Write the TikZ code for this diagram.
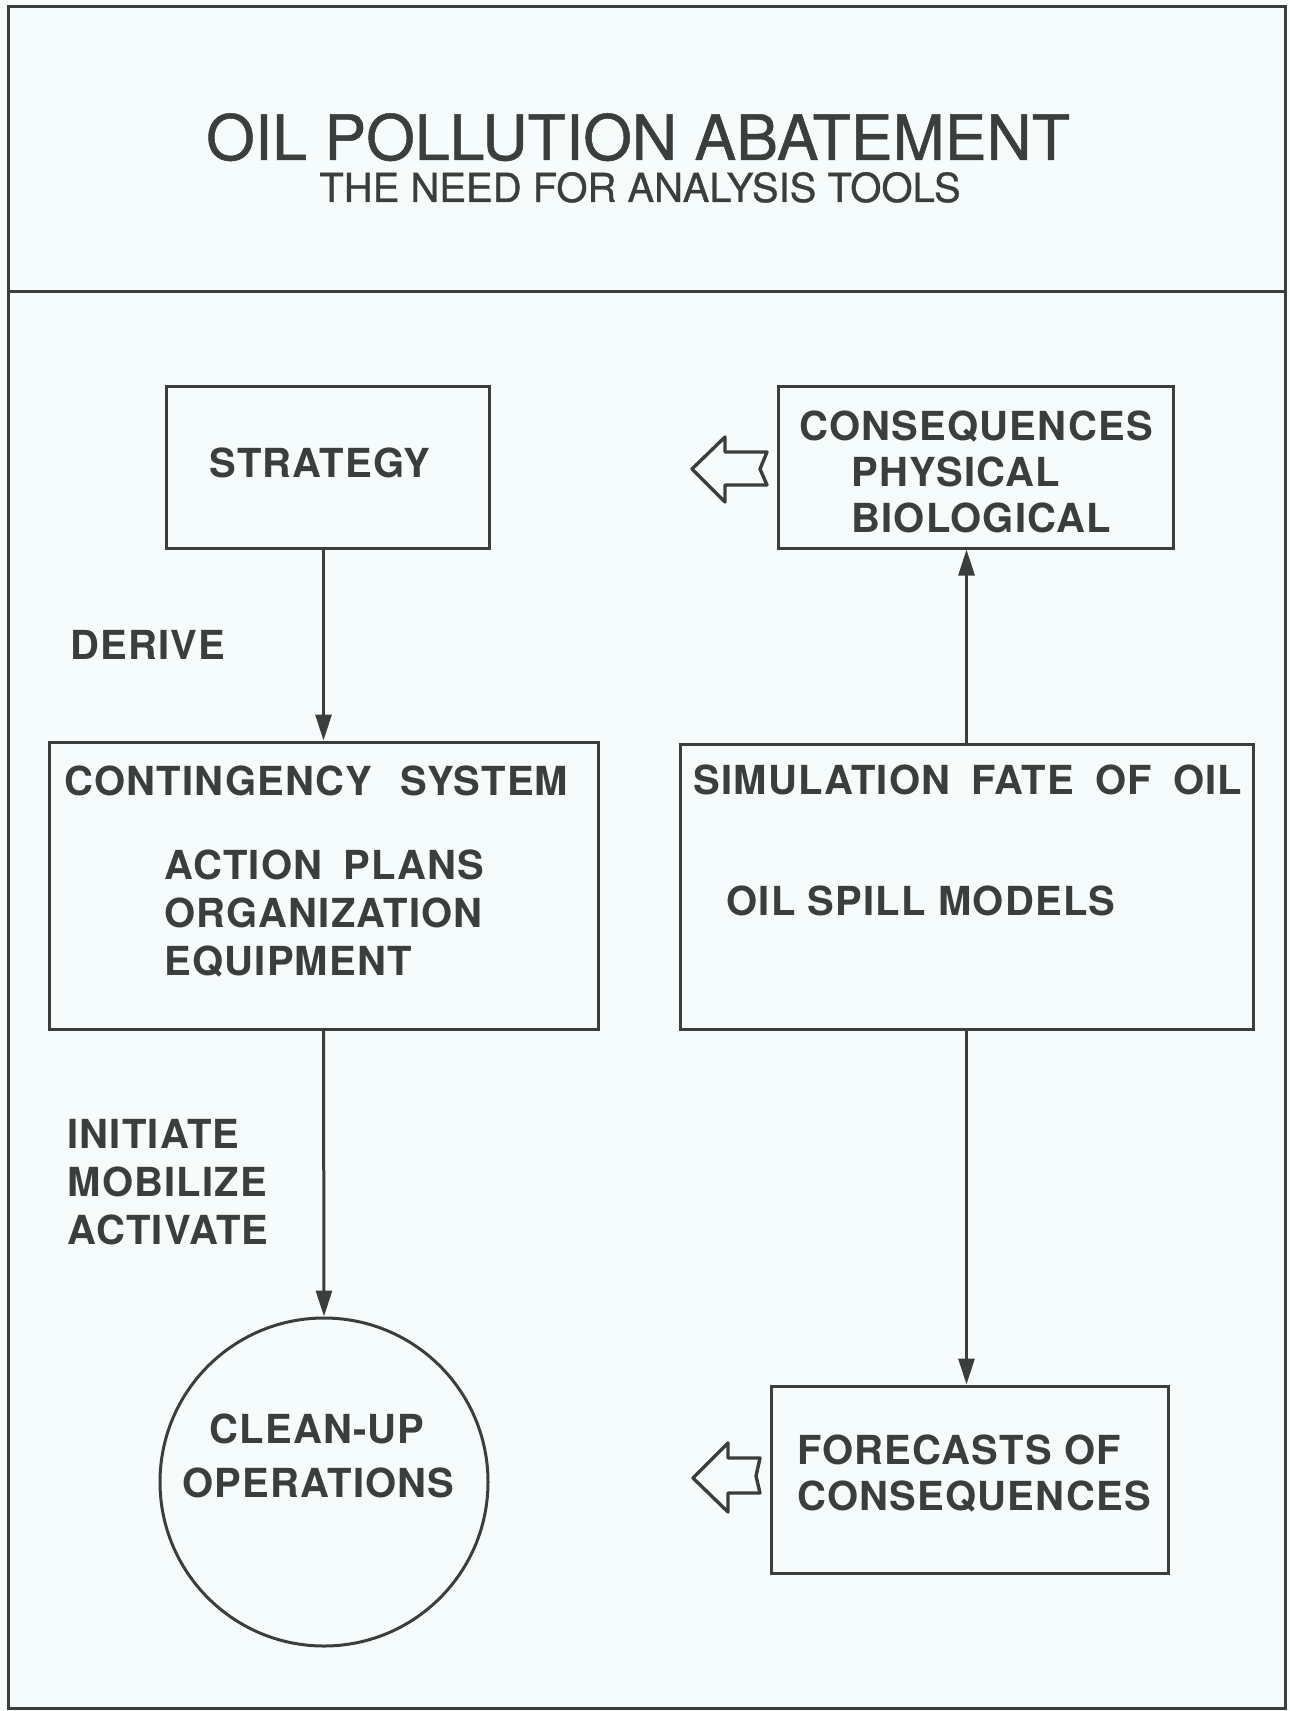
\documentclass[tikz,border=0pt]{standalone}
\usepackage{fontspec}
\setmainfont{TeX Gyre Heros}
\newfontfamily\titlefont[FakeBold=0.8]{TeX Gyre Heros}
\newfontfamily\bodyfont[LetterSpace=3]{TeX Gyre Heros Bold}
\usetikzlibrary{arrows.meta}
\definecolor{bg}{RGB}{245,252,251}
\definecolor{ink}{RGB}{60,62,62}
\begin{document}
\begin{tikzpicture}[x=0.5pt,y=-0.5pt,
  line width=1.5pt, draw=ink, text=ink,
  box/.style={draw=ink, line width=1.5pt, rectangle, inner sep=0pt, minimum width=#1},
  lbl/.style={anchor=base west, inner sep=0pt, font=\bodyfont\fontsize{20}{24}\selectfont},
  flow/.style={draw=ink, line width=1.5pt, -{Triangle[length=13pt,width=8pt]}},
  hollow/.style={draw=ink, line width=1.7pt, line join=round, fill=bg}]
\fill[bg] (0,0) rectangle (1289,1711);
\useasboundingbox (0,0) rectangle (1289,1711);
% frame
\draw (8,7) rectangle (1285,1708);
\draw (8,292) -- (1285,292);
% title
\node[anchor=base, inner sep=0pt, font=\titlefont\fontsize{31.3}{36}\selectfont] (title) at (638,160) {OIL POLLUTION ABATEMENT};
\node[anchor=base, inner sep=0pt, font=\titlefont\fontsize{20}{22}\selectfont] (subtitle) at (640,202) {THE NEED FOR ANALYSIS TOOLS};
% boxes
\node[box=161.5pt, minimum height=80.5pt] (strategy) at (327.5,467.5) {};
\node[box=197.5pt, minimum height=80.5pt] (cons) at (975.5,467.5) {};
\node[box=274.5pt, minimum height=143.5pt] (cont) at (323.5,885.5) {};
\node[box=286.5pt, minimum height=142.5pt] (sim) at (966.5,886.5) {};
\node[box=198.5pt, minimum height=93.5pt] (fore) at (969.5,1479.5) {};
\node[draw=ink, line width=1.5pt, circle, inner sep=0pt, minimum size=164pt] (clean) at (324,1482) {};
% texts
\node[lbl] (tstrat) at (208,478) {STRATEGY};
\node[lbl] (tcons1) at (798,441) {CONSEQUENCES};
\node[lbl] (tcons2) at (850,487) {PHYSICAL};
\node[lbl] (tcons3) at (850,532) {BIOLOGICAL};
\node[lbl] (tderive) at (69,659) {DERIVE};
\node[lbl] (tcont1) at (63,795) {CONTINGENCY \hspace{8pt}SYSTEM};
\node[lbl] (tcont2) at (163,879) {ACTION \hspace{4.5pt}PLANS};
\node[lbl] (tcont3) at (163,927) {ORGANIZATION};
\node[lbl] (tcont4) at (163,975) {EQUIPMENT};
\node[lbl] (tsim1) at (692,794) {SIMULATION \hspace{4.5pt}FATE \hspace{4.5pt}OF \hspace{4.5pt}OIL};
\node[lbl] (tsim2) at (725,915) {OIL SPILL MODELS};
\node[lbl] (tini1) at (66,1148) {INITIATE};
\node[lbl] (tini2) at (66,1196) {MOBILIZE};
\node[lbl] (tini3) at (66,1244) {ACTIVATE};
\node[lbl] (tclean1) at (208,1443) {CLEAN-UP};
\node[lbl] (tclean2) at (181,1497) {OPERATIONS};
\node[lbl] (tfore1) at (796,1464) {FORECASTS OF};
\node[lbl] (tfore2) at (796,1510) {CONSEQUENCES};
% connectors
\draw[flow] (strategy.south -| cont.north) -- (cont.north);
\draw[flow] (cont.south) -- (clean.north);
\draw[flow] (sim.north) -- (sim.north |- cons.south);
\draw[flow] (sim.south) -- (sim.south |- fore.north);
% hollow arrows
\draw[hollow] (692,469) -- (725,437) -- (725,452) -- (767,452) -- (760,469) -- (767,485) -- (725,485) -- (725,502) -- cycle;
\draw[hollow] (693,1478) -- (728,1443) -- (728,1458) -- (760,1458) -- (756,1476) -- (760,1493) -- (728,1493) -- (728,1512) -- cycle;
\end{tikzpicture}
\end{document}
